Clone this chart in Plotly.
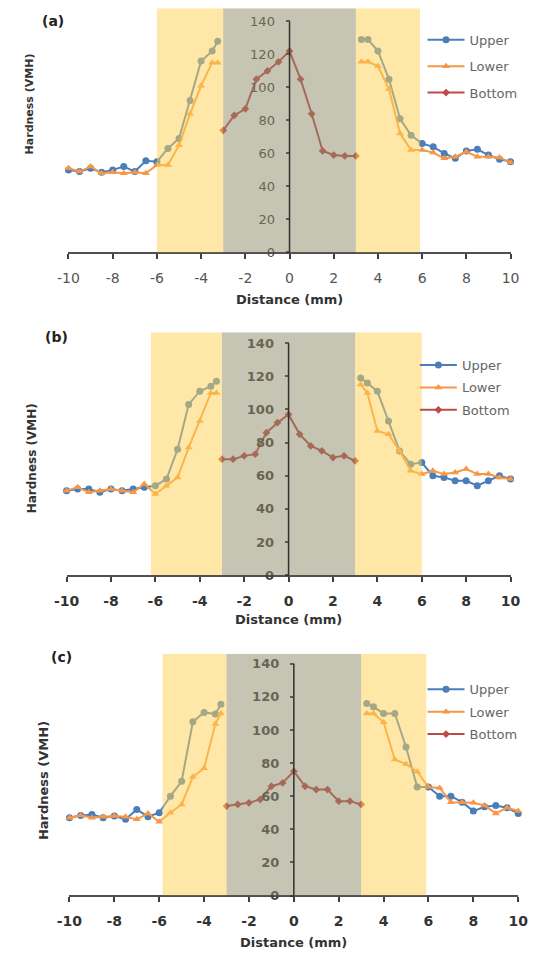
import plotly.graph_objects as go

# ---------------- data ----------------
x_left = [-10, -9.5, -9, -8.5, -8, -7.5, -7, -6.5, -6, -5.5, -5, -4.5, -4, -3.5, -3.25]
x_right = [3.25, 3.55, 4, 4.5, 5, 5.5, 6, 6.5, 7, 7.5, 8, 8.5, 9, 9.5, 10]
x_bottom = [-3, -2.5, -2, -1.5, -1, -0.5, 0, 0.5, 1, 1.5, 2, 2.5, 3]

# panel (a)
a_upper_left = [50, 49, 51, 48.5, 50, 52, 49, 55.5, 55, 63, 69, 92, 116, 122, 128]
a_upper_right = [129, 129, 122, 105, 81, 71, 66, 64, 60, 57, 61.5, 62.5, 59, 56.5, 55]
a_lower_left = [51, 49, 52, 48, 48.5, 48, 48.5, 48, 53, 53, 65, 84, 101, 115, 115]
a_lower_right = [115.5, 115.5, 113, 99, 72, 62, 62, 60.5, 57, 58, 61, 58, 58, 57.5, 54.5]
a_bottom = [74, 83, 87, 105, 110, 115.5, 122, 105, 84, 61.5, 59, 58.5, 58.5]

# panel (b)
b_upper_left = [51, 52, 52, 50, 52, 51, 52, 53, 54, 58, 76, 103, 111, 114, 117]
b_upper_right = [119, 116, 111, 93, 75, 67, 68, 60, 59, 57, 57, 54, 57, 60, 58]
b_lower_left = [51, 53, 50, 51, 52, 51, 50, 55, 49, 54, 59, 77, 93, 110, 110]
b_lower_right = [115, 110, 87, 85, 75, 63, 61, 63, 61, 62, 64, 61, 61, 59, 58]
b_bottom = [70, 70, 72, 73, 86, 92, 97, 85, 78, 75, 71, 72, 69]

# panel (c)
c_upper_left = [47, 48.4, 49, 47, 48, 46, 52, 47.6, 50, 60, 69, 105, 110.6, 109.6, 115.5]
c_upper_right = [116, 114, 110, 110, 89.7, 65.5, 65.5, 60, 60, 56.4, 51, 53.6, 54.4, 53, 49.6]
c_lower_left = [47, 48.4, 47, 47.6, 48, 47.6, 46, 49.6, 44.5, 50, 55, 71.7, 76.8, 103.6, 110]
c_lower_right = [110, 110, 104.6, 82.2, 79.4, 74.8, 65.5, 65, 56.4, 56.4, 56, 54.4, 49.6, 53, 51]
c_bottom = [54, 55, 56, 58, 66, 68, 75, 66, 64, 64, 57, 57, 55]

panel_labels = ["(a)", "(b)", "(c)"]
series_names = ["Upper", "Lower", "Bottom"]
x_ticks = [-10, -8, -6, -4, -2, 0, 2, 4, 6, 8, 10]
x_ticktext = ["-10", "-8", "-6", "-4", "-2", "0", "2", "4", "6", "8", "10"]
y_ticks = [0, 20, 40, 60, 80, 100, 120, 140]
# zone limits (mm): left HAZ, fusion zone, right HAZ
zones_a = [(-6, -3), (-3, 3), (3, 5.9)]
zones_b = [(-6.2, -3), (-3, 3), (3, 6)]
zones_c = [(-5.85, -3), (-3, 3), (3, 5.9)]

# ---------------- styling / geometry ----------------
W, H = 533, 963
FONT = "DejaVu Sans"
C_UP = "#4A7EBB"
C_LO = "#F79646"
C_BO = "#BE4B48"
ZONE_COLORS = ["#FFD24F", "#8E8A68", "#FFD24F"]

# (left px, right px, top px, bottom px, ymax, legend left px, legend top px, legend gap, bold ticks)
geom = [
    (58, 520, 8.3, 254.5, 148.0, 428, 25, 6.5, False),
    (56, 520, 335, 580, 146.6, 420, 353, 2.5, True),
    (59, 528, 659.3, 903, 146.0, 428, 680, 2.5, True),
]
ylabel_pos = [(17, 105, 11), (20, 462, 12), (32, 787, 13)]
xlabel_y = [302, 625, 950]
label_pos = [(42, 21), (45, 340), (51, 662)]

panels = [
    (a_upper_left, a_upper_right, a_lower_left, a_lower_right, a_bottom, zones_a),
    (b_upper_left, b_upper_right, b_lower_left, b_lower_right, b_bottom, zones_b),
    (c_upper_left, c_upper_right, c_lower_left, c_lower_right, c_bottom, zones_c),
]

fig = go.Figure()
shapes = []
annotations = []
layout = {}

for i, (ul, ur, ll, lr, bo, zones) in enumerate(panels):
    n = i + 1
    sfx = "" if n == 1 else str(n)
    xa, ya = "x" + sfx, "y" + sfx
    leg = "legend" + sfx
    lpx, rpx, tpx, bpx, ymax, legx, legtop, leggap, bold = geom[i]

    xs = x_left + [None] + x_right
    fig.add_trace(go.Scatter(
        x=xs, y=ul + [None] + ur, name=series_names[0], mode="lines+markers",
        line=dict(color=C_UP, width=2), marker=dict(symbol="circle", size=7, color=C_UP),
        xaxis=xa, yaxis=ya, legend=leg, legendgroup=f"u{n}", cliponaxis=False,
        connectgaps=False))
    fig.add_trace(go.Scatter(
        x=xs, y=ll + [None] + lr, name=series_names[1], mode="lines+markers",
        line=dict(color=C_LO, width=2), marker=dict(symbol="triangle-up", size=7, color=C_LO),
        xaxis=xa, yaxis=ya, legend=leg, legendgroup=f"l{n}", cliponaxis=False,
        connectgaps=False))
    fig.add_trace(go.Scatter(
        x=x_bottom, y=bo, name=series_names[2], mode="lines+markers",
        line=dict(color=C_BO, width=2), marker=dict(symbol="diamond", size=6, color=C_BO),
        xaxis=xa, yaxis=ya, legend=leg, legendgroup=f"b{n}", cliponaxis=False))

    x0p, x1p = lpx / W, rpx / W
    y0p, y1p = 1 - bpx / H, 1 - tpx / H
    tickcol = "#333333" if bold else "#555555"
    tfont = dict(family=FONT, size=14, color=tickcol, weight="bold" if bold else "normal")

    layout["xaxis" + sfx] = dict(
        domain=[x0p, x1p], range=[-10, 10], anchor=ya,
        tickvals=x_ticks, ticktext=x_ticktext, ticks="outside", ticklen=5, tickwidth=2,
        tickcolor="#404040", showline=True, linecolor="#505050", linewidth=2,
        showgrid=False, zeroline=False, tickfont=tfont, ticklabelstandoff=7,
        fixedrange=True)
    layout["yaxis" + sfx] = dict(
        domain=[y0p, y1p], range=[0, ymax], anchor="free",
        position=(x0p + x1p) / 2, tickvals=y_ticks, ticks="outside", ticklen=4,
        tickwidth=1.5, tickcolor="#303030", showline=False, showgrid=False,
        zeroline=False, tickfont=dict(family=FONT, size=13, color="#404040",
                                      weight="bold" if bold else "normal"),
        ticklabelstandoff=8, fixedrange=True)

    for (z0, z1), zc in zip(zones, ZONE_COLORS):
        shapes.append(dict(type="rect", xref=xa, yref=ya, x0=z0, x1=z1, y0=0, y1=ymax,
                           fillcolor=zc, opacity=0.5, line=dict(width=0), layer="above"))
    shapes.append(dict(type="line", xref=xa, yref=ya, x0=0, x1=0, y0=0, y1=140,
                       line=dict(color="#303030", width=1.5), layer="above"))

    layout[leg] = dict(
        x=legx / W, y=1 - legtop / H, xanchor="left", yanchor="top",
        bgcolor="rgba(0,0,0,0)", borderwidth=0, itemwidth=37,
        tracegroupgap=leggap, font=dict(family=FONT, size=13, color="#666666"))

    lx, ly = label_pos[i]
    annotations.append(dict(text=f"<b>{panel_labels[i]}</b>", x=lx / W, y=1 - ly / H,
                            xref="paper", yref="paper", showarrow=False,
                            xanchor="center", yanchor="middle",
                            font=dict(family=FONT, size=14, color="#222222")))
    yx, yy, ys = ylabel_pos[i]
    annotations.append(dict(text="<b>Hardness (VMH)</b>", x=yx / W, y=1 - yy / H,
                            xref="paper", yref="paper", showarrow=False, textangle=-90,
                            xanchor="center", yanchor="middle",
                            font=dict(family=FONT, size=ys, color="#333333")))
    annotations.append(dict(text="<b>Distance (mm)</b>", x=(lpx + rpx) / 2 / W,
                            y=1 - xlabel_y[i] / H, xref="paper", yref="paper",
                            showarrow=False, xanchor="center", yanchor="middle",
                            font=dict(family=FONT, size=13, color="#333333")))

fig.update_layout(
    width=W, height=H, autosize=False,
    margin=dict(l=0, r=0, t=0, b=0),
    paper_bgcolor="white", plot_bgcolor="white",
    showlegend=True, shapes=shapes, annotations=annotations,
    **layout)

fig.write_html("out.html")
